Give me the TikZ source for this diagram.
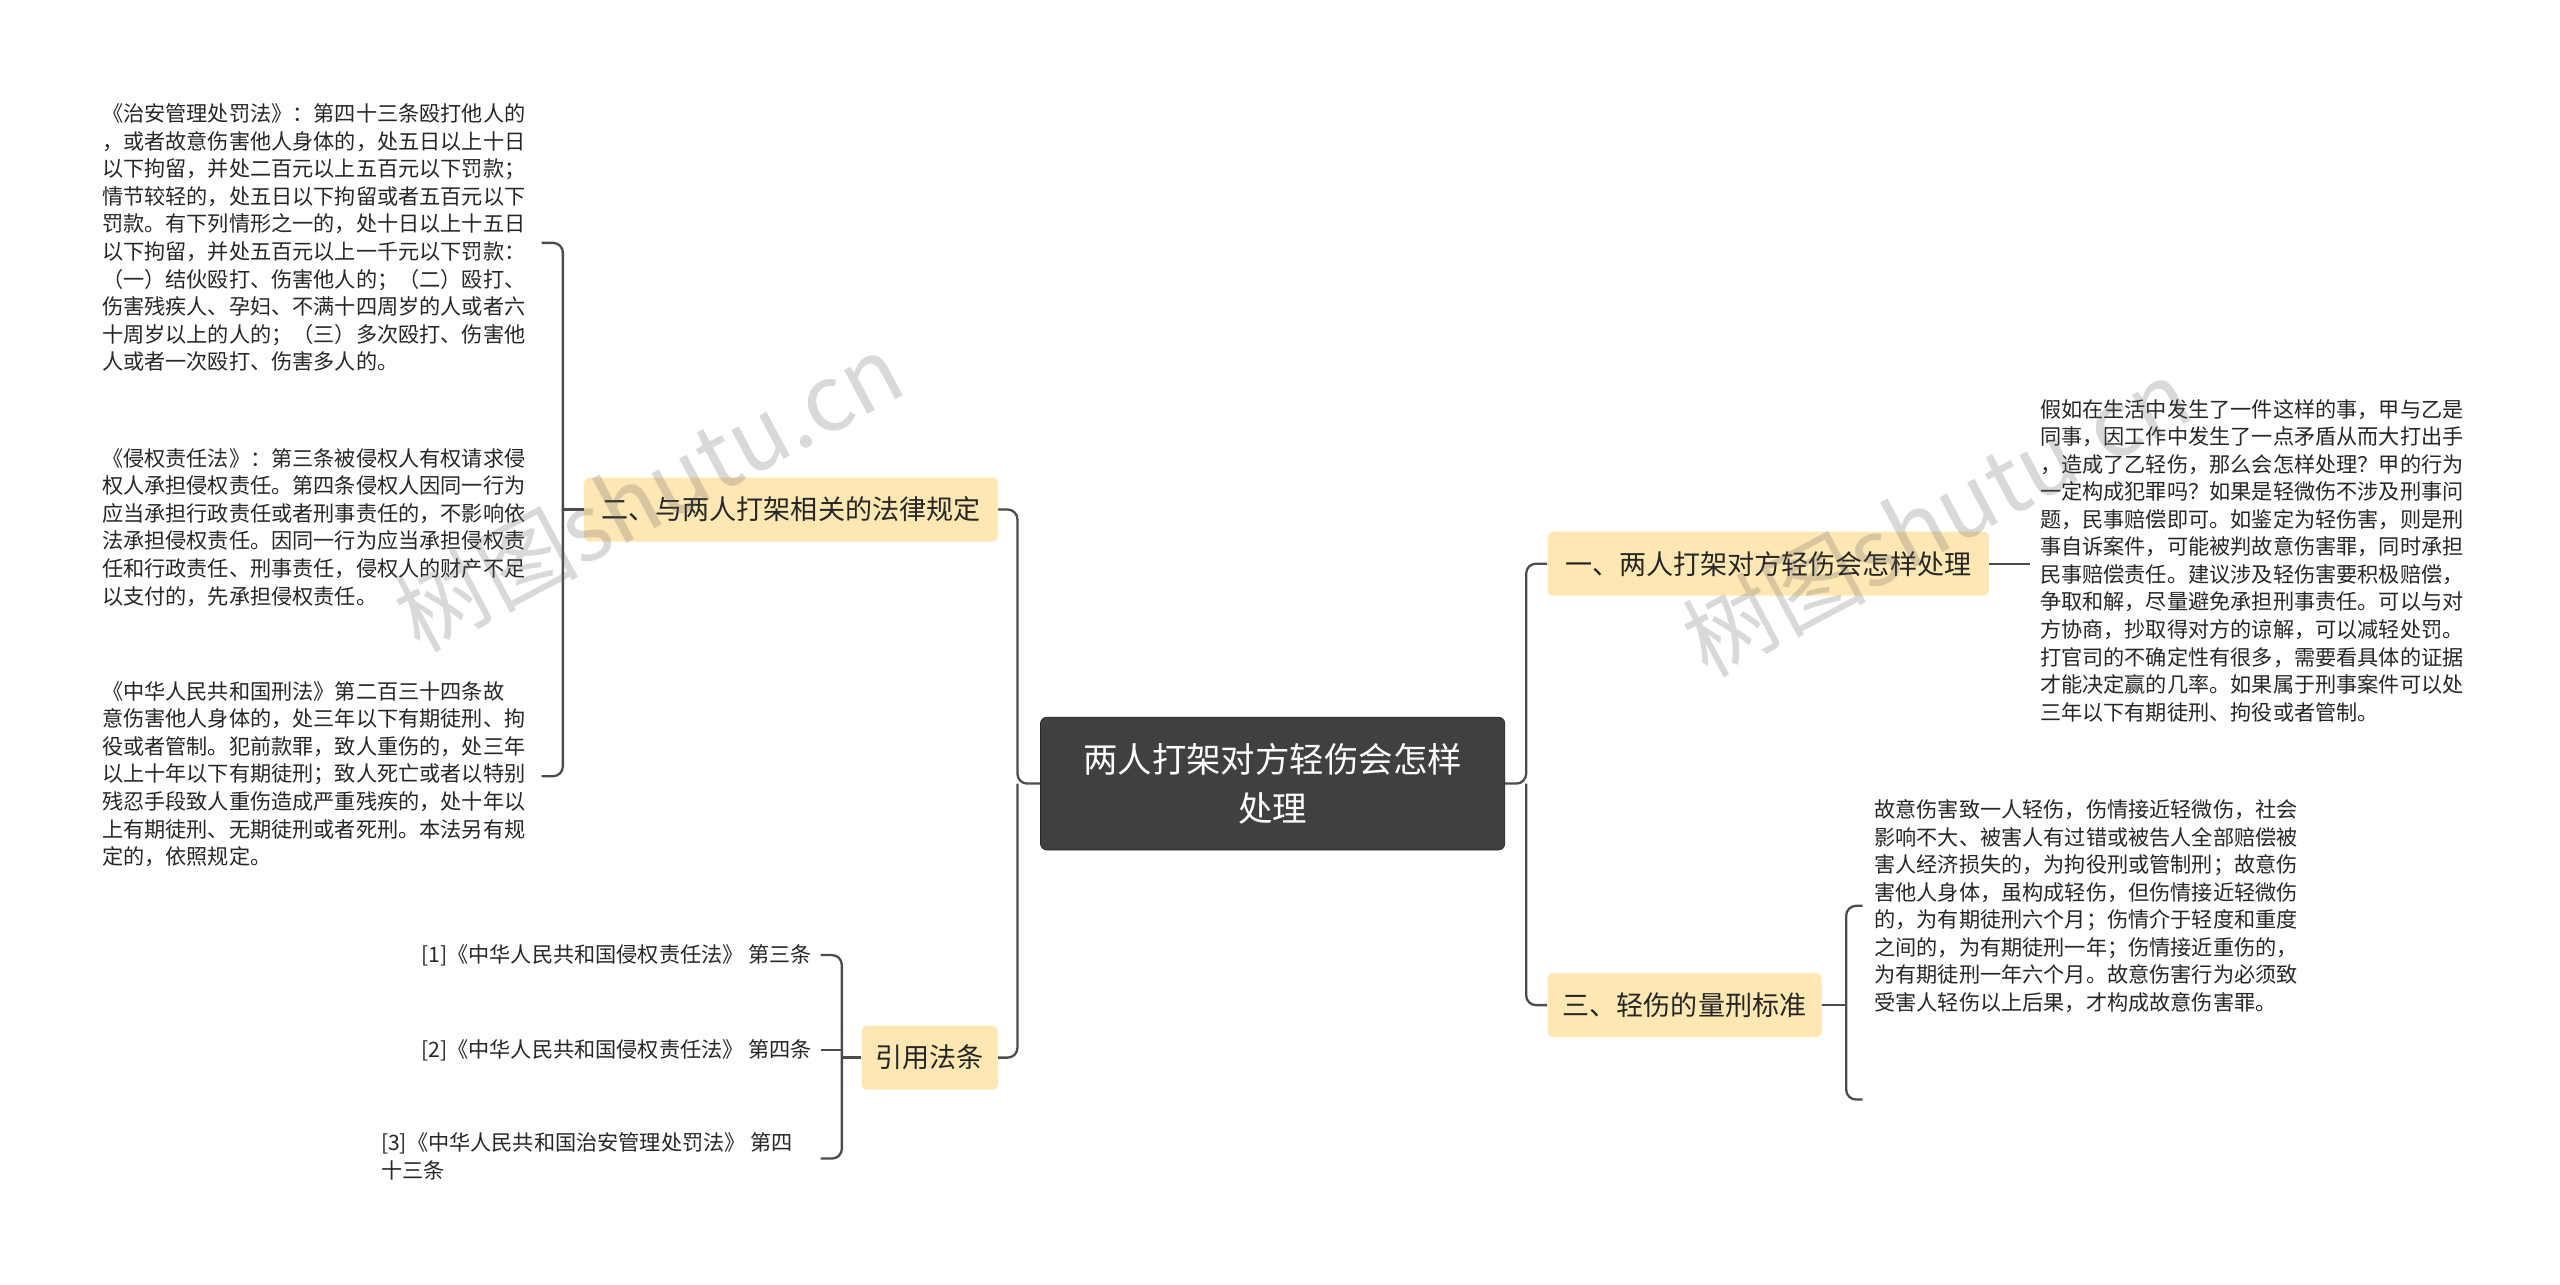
\documentclass[tikz,border=0pt]{standalone}
\usepackage{fontspec}
\setmainfont{Noto Sans CJK SC}
\begin{document}
\begin{tikzpicture}[x=1pt,y=-1pt,
  leaf/.style={inner sep=0pt,align=left,font=\fontsize{12.9}{16.8}\selectfont,text=black!85},
  branch/.style={fill=Fbr,rounded corners=3pt,inner sep=0pt,font=\fontsize{16.5}{20}\selectfont,text=black!85},
  conn/.style={draw=black!70,line width=1.4pt,rounded corners=6pt},
  wm/.style={text=black!60,opacity=0.25,font=\fontsize{56}{56}\selectfont,rotate=28}]
\definecolor{Fbr}{HTML}{FDE7B3}
\useasboundingbox (0,0) rectangle (1560,783);
\node[fill=black!75,draw=black!85,rounded corners=4pt,minimum width=283pt,minimum height=81pt,align=center,text=white,font=\fontsize{21}{30}\selectfont] (c) at (775.5,477.5) {两人打架对方轻伤会怎样\\处理};
\node[branch,minimum width=252pt,minimum height=39pt] (b1) at (482,310.5) {二、与两人打架相关的法律规定};
\node[branch,minimum width=83pt,minimum height=39pt] (b2) at (566.5,644.5) {引用法条};
\node[branch,minimum width=269pt,minimum height=39pt] (b3) at (1077.5,343.5) {一、两人打架对方轻伤会怎样处理};
\node[branch,minimum width=167pt,minimum height=39pt] (b4) at (1026.5,612.5) {三、轻伤的量刑标准};
\node[leaf,anchor=north west] (t1) at (62,63) {《治安管理处罚法》：第四十三条殴打他人的\\，或者故意伤害他人身体的，处五日以上十日\\以下拘留，并处二百元以上五百元以下罚款；\\情节较轻的，处五日以下拘留或者五百元以下\\罚款。有下列情形之一的，处十日以上十五日\\以下拘留，并处五百元以上一千元以下罚款：\\（一）结伙殴打、伤害他人的；（二）殴打、\\伤害残疾人、孕妇、不满十四周岁的人或者六\\十周岁以上的人的；（三）多次殴打、伤害他\\人或者一次殴打、伤害多人的。};
\node[leaf,anchor=north west] (t2) at (62,273) {《侵权责任法》：第三条被侵权人有权请求侵\\权人承担侵权责任。第四条侵权人因同一行为\\应当承担行政责任或者刑事责任的，不影响依\\法承担侵权责任。因同一行为应当承担侵权责\\任和行政责任、刑事责任，侵权人的财产不足\\以支付的，先承担侵权责任。};
\node[leaf,anchor=north west] (t3) at (62,415) {《中华人民共和国刑法》第二百三十四条故\\意伤害他人身体的，处三年以下有期徒刑、拘\\役或者管制。犯前款罪，致人重伤的，处三年\\以上十年以下有期徒刑；致人死亡或者以特别\\残忍手段致人重伤造成严重残疾的，处十年以\\上有期徒刑、无期徒刑或者死刑。本法另有规\\定的，依照规定。};
\node[leaf,anchor=east] (r1) at (495,582) {[1]《中华人民共和国侵权责任法》 第三条};
\node[leaf,anchor=east] (r2) at (495,640) {[2]《中华人民共和国侵权责任法》 第四条};
\node[leaf,anchor=north west] (r3) at (232,690) {[3]《中华人民共和国治安管理处罚法》 第四\\十三条};
\node[leaf,anchor=north west] (t4) at (1243,243) {假如在生活中发生了一件这样的事，甲与乙是\\同事，因工作中发生了一点矛盾从而大打出手\\，造成了乙轻伤，那么会怎样处理？甲的行为\\一定构成犯罪吗？如果是轻微伤不涉及刑事问\\题，民事赔偿即可。如鉴定为轻伤害，则是刑\\事自诉案件，可能被判故意伤害罪，同时承担\\民事赔偿责任。建议涉及轻伤害要积极赔偿，\\争取和解，尽量避免承担刑事责任。可以与对\\方协商，抄取得对方的谅解，可以减轻处罚。\\打官司的不确定性有很多，需要看具体的证据\\才能决定赢的几率。如果属于刑事案件可以处\\三年以下有期徒刑、拘役或者管制。};
\node[leaf,anchor=north west] (t5) at (1142,487) {故意伤害致一人轻伤，伤情接近轻微伤，社会\\影响不大、被害人有过错或被告人全部赔偿被\\害人经济损失的，为拘役刑或管制刑；故意伤\\害他人身体，虽构成轻伤，但伤情接近轻微伤\\的，为有期徒刑六个月；伤情介于轻度和重度\\之间的，为有期徒刑一年；伤情接近重伤的，\\为有期徒刑一年六个月。故意伤害行为必须致\\受害人轻伤以上后果，才构成故意伤害罪。};
% connectors
\draw[conn] (c.west) -- (620,477.5) |- (b1.east);
\draw[conn] (620,477.5) |- (b2.east);
\draw[conn] (c.east) -- (930,477.5) |- (b3.west);
\draw[conn] (930,477.5) |- (b4.west);
\draw[conn] (b1.west) -- (343,310.5);
\draw[conn] (330,148) -- (343,148) -- (343,473) -- (330,473);
\draw[conn] (b2.west) -- (513,644.5);
\draw[conn] ([xshift=5pt]r1.east) -- (513,582) -- (513,706) -- (500,706);
\draw[conn] ([xshift=5pt]r2.east) -- (513,640);
\draw[conn] (b3.east) -- (1237,343.5);
\draw[conn] (b4.east) -- (1125,612.5);
\draw[conn] (1135,552) -- (1125,552) -- (1125,670) -- (1135,670);
% watermarks
\node[wm] (w1) at (395,300) {树图shutu.cn};
\node[wm] (w2) at (1180,315) {树图shutu.cn};
\end{tikzpicture}
\end{document}
